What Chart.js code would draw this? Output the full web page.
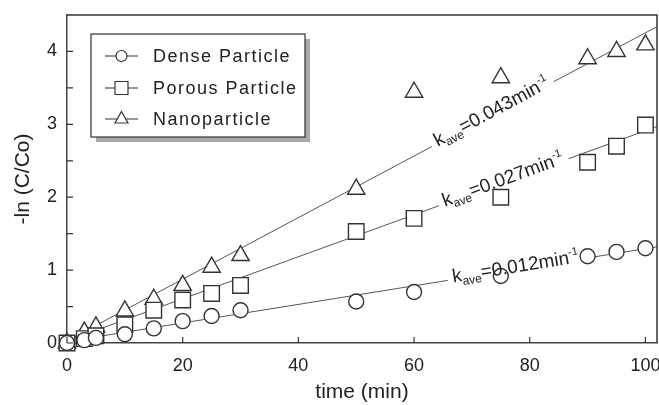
<!DOCTYPE html>
<html>
<head>
<meta charset="utf-8">
<script src="https://cdn.jsdelivr.net/npm/chart.js"></script>
<style>
html, body { margin: 0; padding: 0; background: #fff; }
</style>
</head>
<body>
<canvas id="lnChart" width="659" height="405"></canvas>
<script>
// sampling times (min) and -ln(C/Co)
var time = [0, 3, 5, 10, 15, 20, 25, 30, 50, 60, 75, 90, 95, 100];
var dense = [0, 0.04, 0.07, 0.12, 0.2, 0.3, 0.37, 0.45, 0.57, 0.7, 0.92, 1.19, 1.25, 1.3];
var porous = [0, 0.06, 0.1, 0.25, 0.45, 0.59, 0.68, 0.79, 1.53, 1.71, 2.0, 2.48, 2.7, 2.99];
var nano = [0, 0.15, 0.22, 0.44, 0.6, 0.79, 1.04, 1.2, 2.11, 3.44, 3.64, 3.9, 4.0, 4.09];

// fitted lines, end points
var fitX = [0, 102];
var denseFit = [0.02, 1.32];
var porousFit = [0.03, 2.97];
var nanoFit = [0.03, 4.34];

var seriesNames = ['Dense Particle', 'Porous Particle', 'Nanoparticle'];
var kValues = ['0.012', '0.027', '0.043'];

var FONT = "'Liberation Sans', Arial, sans-serif";
var INK = '#222';

function pts(xs, ys) {
  return xs.map(function (x, i) { return { x: x, y: ys[i] }; });
}

function markerSet(label, ys, style, r) {
  return {
    label: label,
    data: pts(time, ys),
    pointStyle: style,
    pointRadius: r,
    pointHoverRadius: r,
    pointBorderWidth: 1.4,
    pointBorderColor: '#333',
    pointBackgroundColor: '#fff',
    showLine: false,
    clip: false,
    order: 1
  };
}

function fitSet(ys) {
  return {
    label: 'fit',
    data: pts(fitX, ys),
    showLine: true,
    pointRadius: 0,
    borderColor: '#555',
    borderWidth: 1,
    fill: false,
    order: 3,
    isFit: true
  };
}

// label anchors along each fit line (x in minutes)
var kLabels = [
  { fit: denseFit, k: kValues[0], at: 77.6 },
  { fit: porousFit, k: kValues[1], at: 75.5 },
  { fit: nanoFit, k: kValues[2], at: 73.6 }
];

function labelGeom(chart, lab) {
  var xs = chart.scales.x, ys = chart.scales.y;
  var x0 = xs.getPixelForValue(fitX[0]), y0 = ys.getPixelForValue(lab.fit[0]);
  var x1 = xs.getPixelForValue(fitX[1]), y1 = ys.getPixelForValue(lab.fit[1]);
  var t = (lab.at - fitX[0]) / (fitX[1] - fitX[0]);
  var yv = lab.fit[0] + (lab.fit[1] - lab.fit[0]) * t;
  return {
    px: xs.getPixelForValue(lab.at),
    py: ys.getPixelForValue(yv),
    ang: Math.atan2(y1 - y0, x1 - x0)
  };
}

function labelPieces(k) {
  return [
    { t: 'k', size: 19, dy: 0 },
    { t: 'ave', size: 12, dy: 4 },
    { t: '=' + k + 'min', size: 19, dy: 0 },
    { t: '-1', size: 11, dy: -8 }
  ];
}

function labelWidth(ctx, pieces) {
  var w = 0;
  pieces.forEach(function (p) {
    ctx.font = p.size + 'px ' + FONT;
    w += ctx.measureText(p.t).width;
  });
  return w;
}

var gapsDrawn = false;

var decorations = {
  id: 'decorations',
  beforeDraw: function () { gapsDrawn = false; },
  beforeDatasetDraw: function (chart, args) {
    if (gapsDrawn || chart.data.datasets[args.index].isFit) return;
    gapsDrawn = true;
    // white gaps in the fit lines where the k labels sit
    var ctx = chart.ctx;
    kLabels.forEach(function (lab) {
      var g = labelGeom(chart, lab);
      var w = labelWidth(ctx, labelPieces(lab.k));
      ctx.save();
      ctx.translate(g.px, g.py);
      ctx.rotate(g.ang);
      ctx.fillStyle = '#fff';
      ctx.fillRect(-w / 2 - 5, -3, w + 10, 6);
      ctx.restore();
    });
  },
  afterDatasetsDraw: function (chart) {
    var ctx = chart.ctx;
    var a = chart.chartArea;
    var xs = chart.scales.x, ys = chart.scales.y;

    // frame top/right
    ctx.save();
    ctx.strokeStyle = '#333';
    ctx.lineWidth = 1.5;
    ctx.beginPath();
    ctx.moveTo(a.left, a.top);
    ctx.lineTo(a.right, a.top);
    ctx.lineTo(a.right, a.bottom);
    ctx.stroke();

    // inward tick marks
    ctx.lineWidth = 1.2;
    ctx.beginPath();
    xs.ticks.forEach(function (t) {
      var x = xs.getPixelForValue(t.value);
      ctx.moveTo(x, a.bottom);
      ctx.lineTo(x, a.bottom - 6);
    });
    ys.ticks.forEach(function (t) {
      var y = ys.getPixelForValue(t.value);
      if (y <= a.top + 1) return;
      ctx.moveTo(a.left, y);
      ctx.lineTo(a.left + 6, y);
    });
    ctx.stroke();
    ctx.restore();

    // k labels
    kLabels.forEach(function (lab) {
      var g = labelGeom(chart, lab);
      var pieces = labelPieces(lab.k);
      var w = labelWidth(ctx, pieces);
      ctx.save();
      ctx.translate(g.px, g.py);
      ctx.rotate(g.ang);
      ctx.fillStyle = INK;
      ctx.textBaseline = 'alphabetic';
      var x = -w / 2;
      pieces.forEach(function (p) {
        ctx.font = p.size + 'px ' + FONT;
        ctx.fillText(p.t, x, 3 + p.dy);
        x += ctx.measureText(p.t).width;
      });
      ctx.restore();
    });

    // legend box with shadow
    var bx = 91, by = 34, bw = 214, bh = 103;
    ctx.save();
    ctx.fillStyle = '#aaa';
    ctx.fillRect(bx + 5, by + 5, bw, bh);
    ctx.fillStyle = '#fff';
    ctx.fillRect(bx, by, bw, bh);
    ctx.strokeStyle = '#333';
    ctx.lineWidth = 1.2;
    ctx.strokeRect(bx, by, bw, bh);

    var rows = [56, 88, 119];
    var styles = ['circle', 'rect', 'triangle'];
    rows.forEach(function (ry, i) {
      var cx = 121.5;
      ctx.strokeStyle = '#333';
      ctx.lineWidth = 1.2;
      ctx.beginPath();
      ctx.moveTo(105, ry);
      ctx.lineTo(138, ry);
      ctx.stroke();
      ctx.beginPath();
      if (styles[i] === 'circle') {
        ctx.arc(cx, ry, 5.5, 0, Math.PI * 2);
      } else if (styles[i] === 'rect') {
        ctx.rect(cx - 6.5, ry - 6.5, 13, 13);
      } else {
        ctx.moveTo(cx, ry - 7.5);
        ctx.lineTo(cx + 6.5, ry + 4);
        ctx.lineTo(cx - 6.5, ry + 4);
        ctx.closePath();
      }
      ctx.fillStyle = '#fff';
      ctx.fill();
      ctx.stroke();
      ctx.fillStyle = INK;
      ctx.font = '18px ' + FONT;
      ctx.letterSpacing = '1.5px';
      ctx.textBaseline = 'middle';
      ctx.fillText(seriesNames[i], 153, ry + 1);
      ctx.letterSpacing = '0px';
    });
    ctx.restore();
  }
};

Chart.defaults.font.family = FONT;
Chart.defaults.color = INK;

var lnChart = new Chart(document.getElementById('lnChart'), {
  type: 'scatter',
  data: {
    datasets: [
      fitSet(denseFit),
      fitSet(porousFit),
      fitSet(nanoFit),
      markerSet(seriesNames[0], dense, 'circle', 7.5),
      markerSet(seriesNames[1], porous, 'rect', 11),
      markerSet(seriesNames[2], nano, 'triangle', 10)
    ]
  },
  options: {
    responsive: false,
    devicePixelRatio: 1,
    animation: false,
    layout: { autoPadding: false, padding: { top: 15, right: 2, left: 0, bottom: 0 } },
    plugins: {
      legend: { display: false },
      tooltip: { enabled: false }
    },
    scales: {
      x: {
        type: 'linear',
        min: 0,
        max: 102,
        grid: { display: true, drawOnChartArea: false, drawTicks: false },
        border: { display: true, color: '#444', width: 1.5 },
        ticks: { stepSize: 20, includeBounds: false, padding: 12, maxRotation: 0, font: { size: 18 }, color: INK },
        title: { display: true, text: 'time (min)', font: { size: 21 }, color: INK, padding: { top: 0, bottom: 0 } },
        afterFit: function (s) { s.height = 62; s.paddingLeft = 0; s.paddingRight = 0; }
      },
      y: {
        type: 'linear',
        min: 0,
        max: 4.5,
        grid: { display: true, drawOnChartArea: false, drawTicks: false },
        border: { display: true, color: '#444', width: 1.5 },
        ticks: {
          stepSize: 0.5,
          padding: 10,
          font: { size: 18 },
          color: INK,
          callback: function (v) { return Number.isInteger(v) ? String(v) : ''; }
        },
        title: { display: true, text: '-ln (C/Co)', font: { size: 21 }, color: INK, padding: { top: 11, bottom: 0 } },
        afterFit: function (s) { s.width = 67; s.paddingTop = 0; s.paddingBottom = 0; }
      }
    }
  },
  plugins: [decorations]
});
</script>
</body>
</html>
